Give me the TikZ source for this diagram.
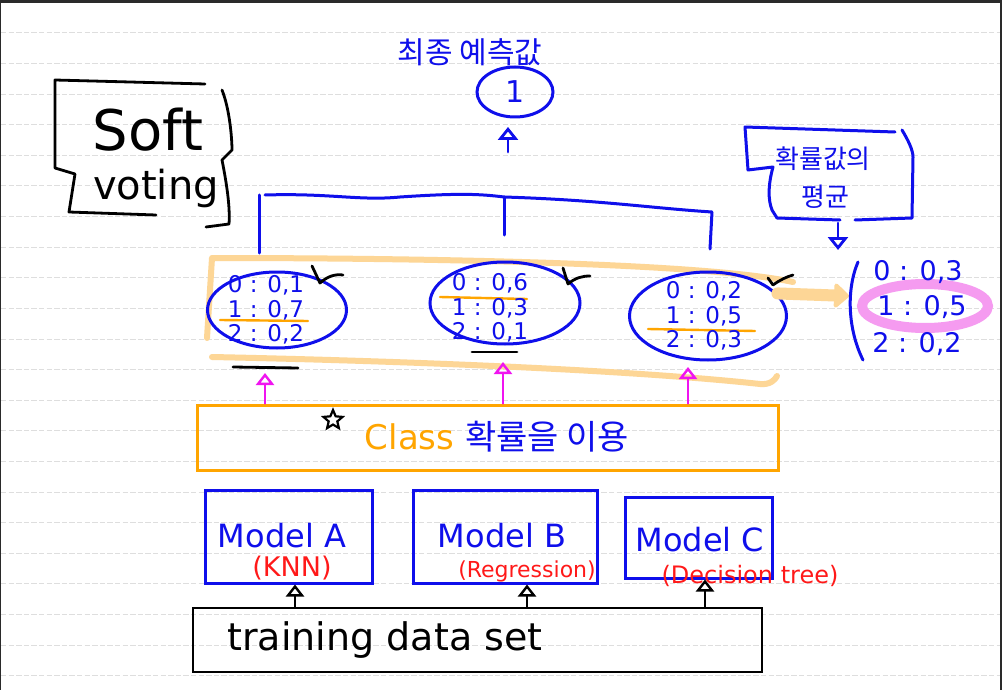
\documentclass[tikz,border=0pt]{standalone}
\usepackage{fontspec}
\setmainfont{DejaVu Sans}
\newfontfamily\kr{Noto Sans CJK KR}
\usetikzlibrary{shapes.geometric,arrows.meta,calc}
\definecolor{penblue}{RGB}{15,15,235}
\definecolor{penred}{RGB}{255,25,25}
\definecolor{penorange}{RGB}{255,165,0}
\definecolor{bandorange}{RGB}{253,214,150}
\definecolor{hlpink}{RGB}{245,155,240}
\definecolor{penmag}{RGB}{240,20,240}
\definecolor{framegray}{RGB}{42,42,42}
\definecolor{rulegray}{RGB}{222,222,222}
\newcommand\fsz[1]{\fontsize{#1}{#1}\selectfont}
\begin{document}
\begin{tikzpicture}[x=1pt,y=-1pt,
  pen/.style={draw=penblue, line width=3pt, line cap=round, line join=round},
  blk/.style={draw=black, line width=2.8pt, line cap=round, line join=round},
  box/.style={draw=penblue, line width=3pt, rectangle, inner sep=0pt},
  ell/.style={draw=penblue, line width=3pt, ellipse, inner sep=0pt},
  txt/.style={inner sep=0pt, text=penblue},
  redtxt/.style={inner sep=0pt, text=penred},
  probs/.style={txt, align=center, font=\fontsize{23}{24.5}\selectfont},
  oline/.style={draw=penorange, line width=2.4pt, line cap=round},
  band/.style={draw=bandorange, line width=6pt, line cap=round, line join=round},
  parrow/.style={draw=penmag, line width=2.4pt, line cap=round, -{Triangle[open,length=12pt 0,width=18pt 0]}},
  barrow/.style={draw=black, line width=2.4pt, line cap=round, -{Triangle[open,length=12pt 0,width=18pt 0]}},
  uarrow/.style={draw=penblue, line width=2.8pt, line cap=round, -{Triangle[open,length=13pt 0,width=20pt 0]}},
  ruled/.style={draw=rulegray, line width=1pt, dash pattern=on 5.3pt off 2.3pt},
]
\useasboundingbox (0,0) rectangle (1002,690);
\fill[white] (0,0) rectangle (1002,690);
\foreach \k in {0,...,22} \draw[ruled] (1,{2.4+30.6*\k}) -- (1000,{2.4+30.6*\k});
\fill[framegray] (0,0) rectangle (1002,3);
\fill[framegray] (0,0) rectangle (1.2,690);
\fill[framegray] (1000,0) rectangle (1002,690);

% ---- Soft voting
\draw[blk] (205,84) -- (55,80) -- (55,168) -- (75,174) -- (69,212) -- (156,215);
\draw[blk] (222,90) .. controls (230,110) and (232,140) .. (232,150) -- (222,160) .. controls (228,190) and (230,210) .. (229,224) -- (206,227);
\node[inner sep=0pt, font=\fsz{56}] (soft) at (148,130) {Soft};
\node[inner sep=0pt, font=\fsz{40}] (voting) at (156,188) {voting};

% ---- final value
\node[txt, font=\kr\fsz{30}] (final) at (470,52) {최종 예측값};
\node[ell, minimum width=76, minimum height=50, font=\fsz{30}, text=penblue] (one) at (515,92) {1};
\coordinate (upfoot) at (508,152);
\coordinate (uptip) at (508,127);
\draw[uarrow] (upfoot) -- (uptip);

% ---- bracket
\draw[pen] (259,253) -- (259,195);
\draw[pen] (265,195) .. controls (330,193) and (360,201) .. (400,197) .. controls (460,193) and (480,194) .. (504,197) .. controls (600,200) and (650,208) .. (712,212) -- (710,249);
\draw[pen] (504,197) -- (504,235);

% ---- orange band and fat arrow
\draw[band] (793,282) .. controls (700,262) and (400,258) .. (212,258) -- (207,338);
\draw[band] (212,357) .. controls (450,362) and (650,372) .. (760,384) .. controls (770,385) and (775,380) .. (777,376);
\coordinate (fatend) at (849,296);

% ---- ellipses
\node[ell, minimum width=139, minimum height=76] (e1) at (277,310) {};
\node[ell, minimum width=150, minimum height=82] (e2) at (505,303) {};
\node[ell, minimum width=157, minimum height=88] (e3) at (708,316) {};
\draw[draw=bandorange, line width=12pt, line cap=round, -{Triangle[round,length=16pt 0,width=28pt 0]}] (e3.18) -- (fatend);

\draw[oline] (220,320) -- (308,321);
\draw[oline] (440,297) -- (527,299);
\draw[oline] (648,329) -- (755,331);

\node[probs] (p1) at (266,310) {0 : 0,1\\1 : 0,7\\2 : 0,2};
\node[probs] (p2) at (490,308) {0 : 0,6\\1 : 0,3\\2 : 0,1};
\node[probs] (p3) at (704,316) {0 : 0,2\\1 : 0,5\\2 : 0,3};

% check marks and underlines
\draw[blk] (312,266) -- (320,283) .. controls (328,276) and (335,274) .. (343,275);
\draw[blk] (563,268) -- (568,284) .. controls (575,278) and (582,276) .. (590,276);
\draw[blk] (768,278) -- (773,285) .. controls (780,280) and (786,277) .. (793,275);
\draw[blk] (233,367) -- (298,368);
\draw[blk] (472,352) -- (517,352);

% ---- average box
\draw[pen] (895,132) -- (745,127) -- (748,170) -- (773,167) .. controls (768,185) and (768,200) .. (772,210) -- (777,218) -- (840,220);
\draw[pen] (902,130) .. controls (908,140) and (913,150) .. (913,157) -- (912,218) -- (855,220);
\node[txt, font=\kr\fsz{26}] (avg1) at (823,159) {확률값의};
\node[txt, font=\kr\fsz{26}] (avg2) at (825,197) {평균};
\coordinate (avgfoot) at (838,223);
\coordinate (avgtip) at (838,250);
\draw[uarrow] (avgfoot) -- (avgtip);

% ---- resulting distribution
\node[draw=hlpink, line width=10pt, ellipse, minimum width=126, minimum height=44] (hl) at (925,306) {};
\draw[pen] (858,262) .. controls (846,290) and (848,330) .. (863,360);
\node[txt, font=\fsz{27}] (d0) at (918,272) {0 : 0,3};
\node[txt, font=\fsz{27}] (d1) at (922,307) {1 : 0,5};
\node[txt, font=\fsz{27}] (d2) at (917,344) {2 : 0,2};

% ---- class box
\node[draw=penorange, line width=3pt, rectangle, minimum width=581, minimum height=65, inner sep=0pt] (cls) at (487.5,437.5) {};
\node[txt, font=\fsz{34}] (clstxt) at (497,437) {\textcolor{penorange}{Class} {\kr 확률을 이용}};
\node[draw=black, line width=2.2pt, star, star points=5, star point ratio=2.2, minimum size=20pt, inner sep=0pt] (star) at (333,420) {};
\coordinate (t1) at (265,373);
\coordinate (t2) at (503,362);
\coordinate (t3) at (688,367);
\draw[parrow] (cls.north -| t1) -- (t1);
\draw[parrow] (cls.north -| t2) -- (t2);
\draw[parrow] (cls.north -| t3) -- (t3);

% ---- models
\node[box, minimum width=167, minimum height=93] (mA) at (288.5,536.5) {};
\node[box, minimum width=184, minimum height=93] (mB) at (505,536.5) {};
\node[box, minimum width=147, minimum height=81] (mC) at (698.5,537.5) {};
\node[txt, font=\fsz{32}] (mAt) at (282,536) {Model A};
\node[txt, font=\fsz{32}] (mBt) at (502,536) {Model B};
\node[txt, font=\fsz{32}] (mCt) at (700,540) {Model C};
\node[redtxt, font=\fsz{27}] (knn) at (292,568) {(KNN)};
\node[redtxt, font=\fsz{22}] (reg) at (527,571) {(Regression)};
\node[redtxt, font=\fsz{24}] (dt) at (750,576) {(Decision tree)};

% ---- training data
\node[draw=black, line width=2.8pt, rectangle, minimum width=569, minimum height=64, inner sep=0pt] (train) at (477.5,640) {};
\node[inner sep=0pt, font=\fsz{38}] (traintxt) at (385,640) {training data set};
\coordinate (b1) at (295,0);
\coordinate (b2) at (527,0);
\coordinate (b3) at (705,0);
\draw[barrow] (train.north -| b1) -- (mA.south -| b1);
\draw[barrow] (train.north -| b2) -- (mB.south -| b2);
\draw[barrow] (train.north -| b3) -- (mC.south -| b3);
\end{tikzpicture}
\end{document}
